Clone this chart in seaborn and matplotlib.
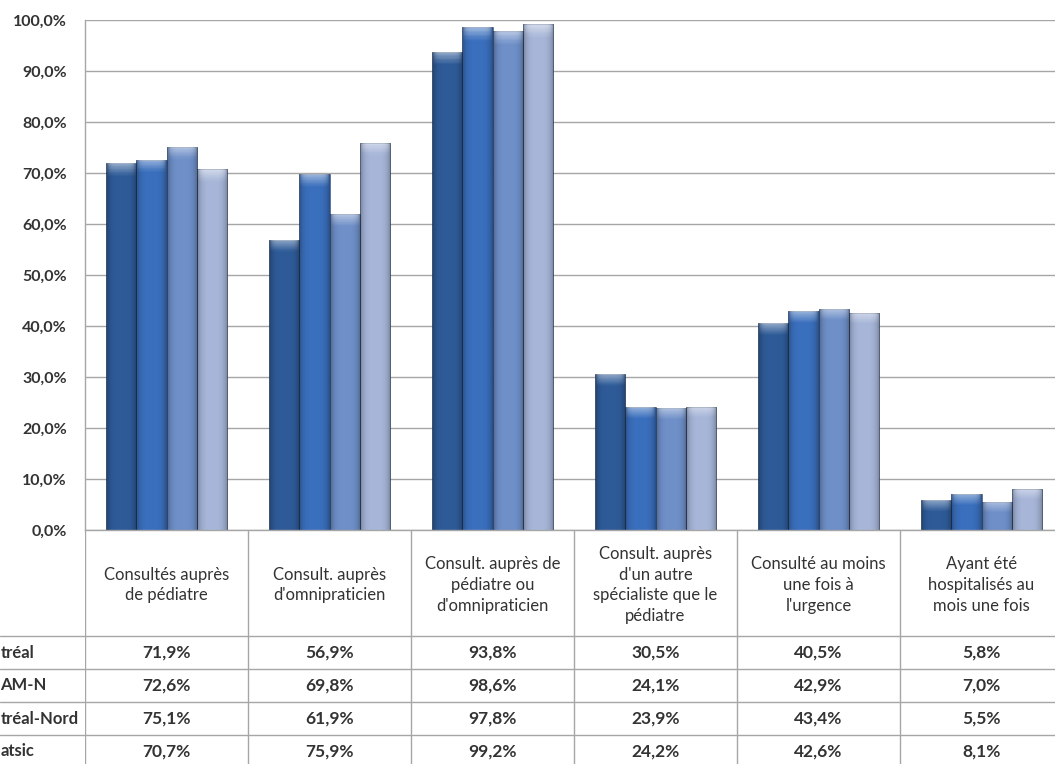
#!/usr/bin/env python3

from __future__ import annotations

import matplotlib

matplotlib.use("Agg")
import matplotlib.pyplot as plt
import matplotlib.transforms as mtransforms
import numpy as np
import pandas as pd
import seaborn as sns


CATEGORIES = [
    "Consultés auprès\nde pédiatre",
    "Consult. auprès\nd'omnipraticien",
    "Consult. auprès de\npédiatre ou\nd'omnipraticien",
    "Consult. auprès\nd'un autre\nspécialiste que le\npédiatre",
    "Consulté au moins\nune fois à\nl'urgence",
    "Ayant été\nhospitalisés au\nmois une fois",
]
# row labels are cut off at the left edge of the original picture
SERIES = ["tréal", "AM-N", "tréal-Nord", "atsic"]
MONTREAL = [71.9, 56.9, 93.8, 30.5, 40.5, 5.8]
AM_N = [72.6, 69.8, 98.6, 24.1, 42.9, 7.0]
MONTREAL_NORD = [75.1, 61.9, 97.8, 23.9, 43.4, 5.5]
ATSIC = [70.7, 75.9, 99.2, 24.2, 42.6, 8.1]
Y_TICKS = list(range(0, 101, 10))

COLORS = ["#2E5B98", "#3A6FBD", "#6E8FC8", "#A6B5D8"]
GRID = "#A6A6A6"
TEXT = "#333333"

W, H = 1055, 764
PLOT_LEFT = 85
COL_W = 163
Y_TOP, Y_ZERO = 20, 530
HEADER_H = 106
ROW_H = 33


def pct(value: float) -> str:
    return f"{value:.1f}%".replace(".", ",")


def build_frame() -> pd.DataFrame:
    rows = []
    for serie, values in zip(SERIES, [MONTREAL, AM_N, MONTREAL_NORD, ATSIC]):
        for cat, value in zip(CATEGORIES, values):
            rows.append({"categorie": cat, "serie": serie, "valeur": value})
    return pd.DataFrame(rows)


def shade_bars(ax: plt.Axes) -> None:
    # rough imitation of the excel bevel: dark sides, light cap
    xs = np.linspace(-1, 1, 60)
    side = np.abs(xs) ** 4 * 0.30
    for bar in list(ax.patches):
        x0, y0 = bar.get_x(), bar.get_y()
        w, h = bar.get_width(), bar.get_height()
        if h <= 0:
            continue
        ny = 120
        depth = np.linspace(0, h, ny)[:, None]
        cap = np.clip(1 - depth / 2.2, 0, 1) * 0.45
        dark = np.zeros((ny, xs.size, 4))
        dark[..., 3] = np.broadcast_to(side, (ny, xs.size))
        light = np.ones((ny, xs.size, 4))
        light[..., 3] = np.broadcast_to(cap, (ny, xs.size)) * (1 - np.abs(xs) ** 6)
        for img in (dark, light):
            im = ax.imshow(img, extent=(x0, x0 + w, y0, y0 + h), origin="upper", aspect="auto", zorder=bar.get_zorder() + 0.1)
            im.set_clip_path(bar)


def plot_bars(ax: plt.Axes, frame: pd.DataFrame) -> None:
    sns.barplot(
        data=frame,
        x="categorie",
        y="valeur",
        hue="serie",
        order=CATEGORIES,
        hue_order=SERIES,
        palette=COLORS,
        saturation=1,
        width=0.74,
        edgecolor="#2A4570",
        linewidth=0.4,
        legend=False,
        ax=ax,
    )
    shade_bars(ax)
    ax.set_xlim(-0.5, len(CATEGORIES) - 0.5)
    ax.set_ylim(0, 100)
    ax.set_yticks(Y_TICKS)
    ax.set_yticklabels([pct(t) for t in Y_TICKS], fontweight="bold", color=TEXT, fontsize=11.5)
    ax.set_xticks([])
    ax.set_xlabel("")
    ax.set_ylabel("")
    ax.tick_params(axis="y", length=0, pad=13)
    ax.yaxis.grid(True, color=GRID, linewidth=1)
    ax.set_axisbelow(True)
    for side in ["top", "right"]:
        ax.spines[side].set_visible(False)
    for side in ["left", "bottom"]:
        ax.spines[side].set_color(GRID)
        ax.spines[side].set_linewidth(1)


def plot_table(fig: plt.Figure, ax: plt.Axes) -> None:
    n = len(CATEGORIES)
    total_h = HEADER_H + ROW_H * len(SERIES)
    ax.set_xlim(-0.5, n - 0.5)
    ax.set_ylim(total_h, 0)
    ax.axis("off")

    ax.vlines([i - 0.5 for i in range(n + 1)], 0, total_h, color=GRID, linewidth=1)
    xmin = -PLOT_LEFT / (COL_W * n)
    for r in range(len(SERIES)):
        ax.axhline(HEADER_H + ROW_H * r, xmin=xmin, xmax=1, color=GRID, linewidth=1, clip_on=False)

    for i, label in enumerate(CATEGORIES):
        ax.text(i, HEADER_H / 2 + 2, label, ha="center", va="center", fontsize=12, color=TEXT, linespacing=1.35)

    label_trans = mtransforms.blended_transform_factory(fig.transFigure, ax.transData)
    for r, (serie, values) in enumerate(zip(SERIES, [MONTREAL, AM_N, MONTREAL_NORD, ATSIC])):
        y = HEADER_H + ROW_H * r + ROW_H / 2
        ax.text(0.0005, y, serie, transform=label_trans, ha="left", va="center", fontsize=12, fontweight="bold", color=TEXT)
        for i, value in enumerate(values):
            ax.text(i, y, pct(value), ha="center", va="center", fontsize=12.5, fontweight="bold", color=TEXT)


def main() -> None:
    sns.set_style("white")
    plt.rcParams["font.family"] = ["Lato", "DejaVu Sans"]

    fig = plt.figure(figsize=(W / 100, H / 100), dpi=100)
    width = COL_W * len(CATEGORIES) / W
    ax = fig.add_axes([PLOT_LEFT / W, 1 - Y_ZERO / H, width, (Y_ZERO - Y_TOP) / H])
    total_h = HEADER_H + ROW_H * len(SERIES)
    ax_tab = fig.add_axes([PLOT_LEFT / W, 1 - (Y_ZERO + total_h) / H, width, total_h / H])

    plot_bars(ax, build_frame())
    plot_table(fig, ax_tab)
    fig.savefig("out.png", dpi=100)
    plt.close(fig)


if __name__ == "__main__":
    main()
